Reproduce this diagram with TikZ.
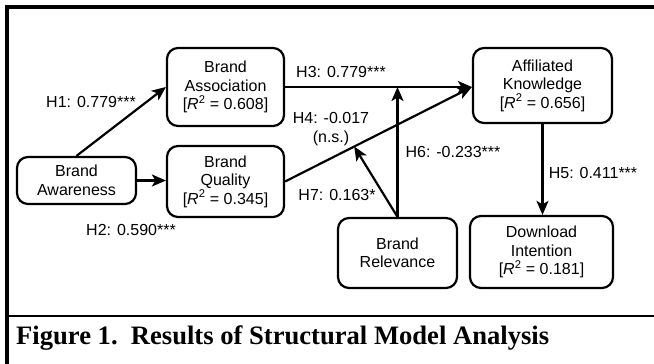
\documentclass[tikz,border=0pt]{standalone}
\usepackage{fontspec}
\setmainfont{Liberation Serif}
\setsansfont{Liberation Sans}
\usetikzlibrary{arrows.meta,calc}
\begin{document}
\begin{tikzpicture}[x=1pt,y=-1pt,
  box/.style={draw, line width=2.2pt, rounded corners=11pt, align=center,
    font=\sffamily\fontsize{16}{18.5}\selectfont, inner sep=0pt},
  lab/.style={font=\sffamily\fontsize{16}{18.5}\selectfont, inner sep=0pt, align=center},
  arr/.style={line width=2.2pt, -{Stealth[length=14pt,width=12pt,inset=3.5pt]}},
]
\useasboundingbox (0,0) rectangle (654,364);
% frame
\draw[line width=4pt] (7,364) -- (7,7) -- (660,7);
\draw[line width=2.5pt] (7,316) -- (660,316);
\node[anchor=base west, font=\rmfamily\bfseries\fontsize{26.6}{30}\selectfont, inner sep=0pt] (cap) at (16,344) {Figure 1.\ \ Results of Structural Model Analysis};

% boxes
\node[box, minimum width=117pt, minimum height=78pt] (assoc) at (225.5,87) {Brand\\Association\\{[}\textit{R}\textsuperscript{2} = 0.608{]}};
\node[box, minimum width=117pt, minimum height=71pt] (quality) at (225.5,181.5) {Brand\\Quality\\{[}\textit{R}\textsuperscript{2} = 0.345{]}};
\node[box, minimum width=119pt, minimum height=47pt] (aware) at (76.5,180.5) {Brand\\Awareness};
\node[box, minimum width=139pt, minimum height=75pt] (know) at (542.5,85.5) {Affiliated\\Knowledge\\{[}\textit{R}\textsuperscript{2} = 0.656{]}};
\node[box, minimum width=119pt, minimum height=70pt] (relev) at (397.5,253) {Brand\\Relevance};
\node[box, minimum width=143pt, minimum height=72pt] (down) at (541.5,252) {Download\\Intention\\{[}\textit{R}\textsuperscript{2} = 0.181{]}};

% connection points
\coordinate (kin) at (assoc.east -| know.west);
\coordinate (h7end) at ($(quality.east)!0.37!(kin)$);

% arrows
\draw[arr] (aware.north) -- (assoc.west);
\draw[arr] (aware.east) -- (aware.east -| quality.west);
\draw[arr] (assoc.east) -- (kin);
\draw[arr] (quality.east) -- (kin);
\draw[arr] (relev.north) -- (relev.north |- assoc.east);
\draw[arr] (relev.north) -- (h7end);
\draw[arr] (know.south) -- (know.south |- down.north);

% labels
\node[lab] (l1) at (91,102) {H1: 0.779***};
\node[lab] (l2) at (131,230) {H2: 0.590***};
\node[lab] (l3) at (341,72) {H3: 0.779***};
\node[lab] (l4) at (331,129) {H4: -0.017\\(n.s.)};
\node[lab] (l5) at (593,173) {H5: 0.411***};
\node[lab] (l6) at (453,152) {H6: -0.233***};
\node[lab] (l7) at (337,195) {H7: 0.163*};
\end{tikzpicture}
\end{document}
